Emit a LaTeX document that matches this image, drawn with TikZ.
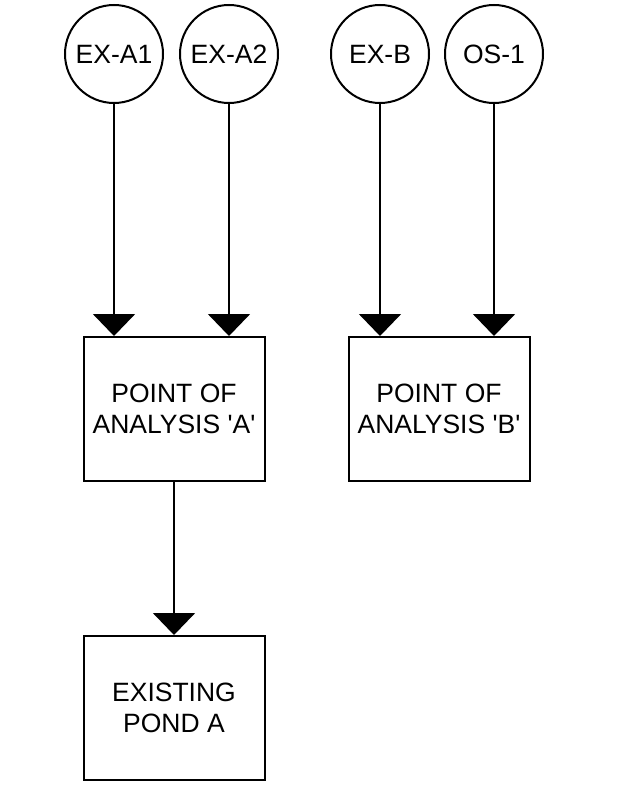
\documentclass[tikz,border=0pt]{standalone}
\usepackage{fontspec}
\setmainfont{Liberation Sans}
\usetikzlibrary{arrows.meta}
\newcommand{\sq}{\XeTeXglyph\XeTeXcharglyph"27\relax}
\begin{document}
\begin{tikzpicture}[x=1pt,y=-1pt,
  src/.style={circle,draw,line width=2pt,minimum size=98pt,inner sep=0pt,
    font=\fontsize{26.5}{31.7}\selectfont},
  stepbox/.style={rectangle,draw,line width=2pt,minimum width=181pt,minimum height=144pt,
    align=center,inner sep=0pt,font=\fontsize{26.5}{31.7}\selectfont},
  flow/.style={line width=2pt,-{Triangle[length=22pt,width=42pt]}}]
\useasboundingbox (0,0) rectangle (624,808);
\node[src] (a1) at (114,54) {EX-A1};
\node[src] (a2) at (229,54) {EX-A2};
\node[src] (b) at (380,54) {EX-B};
\node[src] (os) at (494,54) {OS-1};
\node[stepbox] (pa) at (174,409) {POINT OF\\ANALYSIS \sq A\sq};
\node[stepbox] (pb) at (439,409) {POINT OF\\ANALYSIS \sq B\sq};
\node[stepbox] (pond) at (174,708) {EXISTING\\POND A};
\draw[flow] (a1.south) -- (a1.south |- pa.north);
\draw[flow] (a2.south) -- (a2.south |- pa.north);
\draw[flow] (b.south) -- (b.south |- pb.north);
\draw[flow] (os.south) -- (os.south |- pb.north);
\draw[flow] (pa.south) -- (pond.north);
\end{tikzpicture}
\end{document}
